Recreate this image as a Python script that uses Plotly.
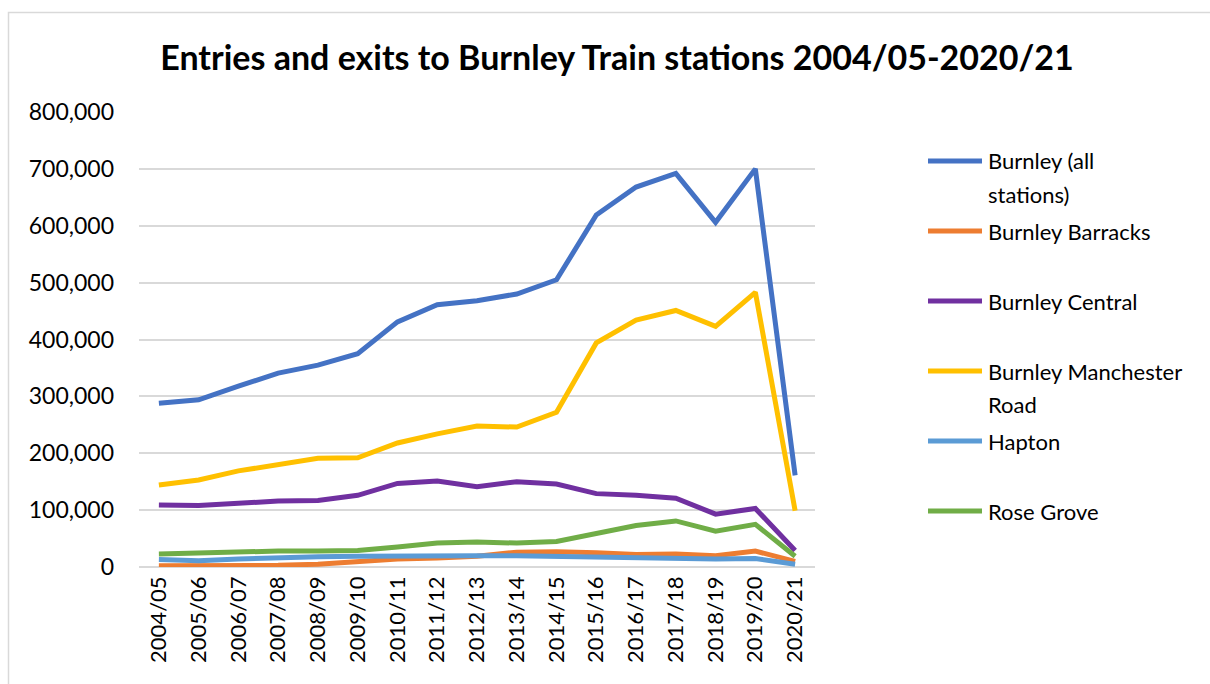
import plotly.graph_objects as go

# Financial years
years = ["2004/05", "2005/06", "2006/07", "2007/08", "2008/09", "2009/10",
         "2010/11", "2011/12", "2012/13", "2013/14", "2014/15", "2015/16",
         "2016/17", "2017/18", "2018/19", "2019/20", "2020/21"]

# Entries and exits per station
burnley_all = [288000, 294000, 318000, 341000, 355000, 375000, 431000, 461000,
               468000, 480000, 505000, 619000, 668000, 692000, 606000, 700000, 161000]
burnley_barracks = [2000, 2000, 3000, 3000, 5000, 10000, 14000, 16000,
                    19000, 26000, 27000, 25000, 22000, 23000, 20000, 28000, 10000]
burnley_central = [109000, 108000, 112000, 116000, 117000, 126000, 147000, 151000,
                   141000, 150000, 146000, 129000, 126000, 121000, 93000, 103000, 29000]
burnley_manchester_road = [144000, 153000, 169000, 180000, 191000, 192000, 218000, 234000,
                           248000, 246000, 272000, 394000, 434000, 451000, 423000, 483000, 99000]
hapton = [13000, 11000, 14000, 17000, 18000, 19000, 20000, 20000,
          20000, 20000, 19000, 16000, 16000, 16000, 14000, 15000, 5000]
rose_grove = [23000, 25000, 25500, 28000, 28000, 29000, 35000, 42000,
              44000, 42000, 45000, 59000, 73000, 81000, 63000, 75000, 19000]

series_names = ["Burnley (all stations)", "Burnley Barracks", "Burnley Central",
                "Burnley Manchester Road", "Hapton", "Rose Grove"]
legend_lines = [["Burnley (all", "stations)"], ["Burnley Barracks"], ["Burnley Central"],
                ["Burnley Manchester", "Road"], ["Hapton"], ["Rose Grove"]]
series_values = [burnley_all, burnley_barracks, burnley_central,
                 burnley_manchester_road, hapton, rose_grove]
colors = ["#4472C4", "#ED7D31", "#7030A0", "#FFC000", "#5B9BD5", "#70AD47"]

FONT = "Lato"
W, H = 1210, 684
L, R, T, B = 139, 395, 112, 117
plot_w = W - L - R
plot_h = H - T - B


def px_to_paper(x, y):
    return (x - L) / plot_w, (H - B - y) / plot_h


fig = go.Figure()
for name, vals, col in zip(series_names, series_values, colors):
    fig.add_trace(go.Scatter(
        x=years, y=vals, name=name, mode="lines",
        line=dict(color=col, width=5, shape="linear"),
        showlegend=False,
    ))

# Legend drawn beside the plot: a key line and text for each series
shapes = []
annotations = []
for i, (lines, col) in enumerate(zip(legend_lines, colors)):
    yc = 161 + i * 70
    x0, y0 = px_to_paper(928, yc)
    x1, _ = px_to_paper(982, yc)
    shapes.append(dict(type="line", xref="paper", yref="paper",
                       x0=x0, x1=x1, y0=y0, y1=y0,
                       line=dict(color=col, width=5)))
    for j, txt in enumerate(lines):
        tx, ty = px_to_paper(986, yc + j * 33)
        annotations.append(dict(text=txt, xref="paper", yref="paper",
                                x=tx, y=ty, xanchor="left", yanchor="middle",
                                showarrow=False,
                                font=dict(family=FONT, size=22, color="#000000")))

# Chart area border
bx0, by0 = px_to_paper(8.5, 12.5)
bx1, by1 = px_to_paper(1260, 720)
shapes.append(dict(type="rect", xref="paper", yref="paper",
                   x0=bx0, y0=by0, x1=bx1, y1=by1,
                   line=dict(color="#D9D9D9", width=1.5), layer="below"))

fig.update_layout(
    width=W, height=H,
    margin=dict(l=L, r=R, t=T, b=B),
    paper_bgcolor="white", plot_bgcolor="white",
    title=dict(text="<b>Entries and exits to Burnley Train stations 2004/05-2020/21</b>",
               x=617 / W, xanchor="center", y=1 - 58 / H, yanchor="middle",
               font=dict(family=FONT, size=34, color="#000000")),
    xaxis=dict(type="category", range=[-0.5, len(years) - 0.5],
               tickangle=-90, showgrid=False, showline=False,
               ticks="", tickfont=dict(family=FONT, size=22, color="#000000"),
               ticklabelstandoff=4),
    yaxis=dict(range=[0, 800000], dtick=100000, tickformat=",d",
               showgrid=True, gridcolor="#D9D9D9", gridwidth=2,
               zeroline=True, zerolinecolor="#D9D9D9", zerolinewidth=2,
               showline=False, ticks="",
               tickfont=dict(family=FONT, size=23, color="#000000"),
               ticklabelstandoff=24),
    shapes=shapes,
    annotations=annotations,
)

fig.write_html("out.html")
